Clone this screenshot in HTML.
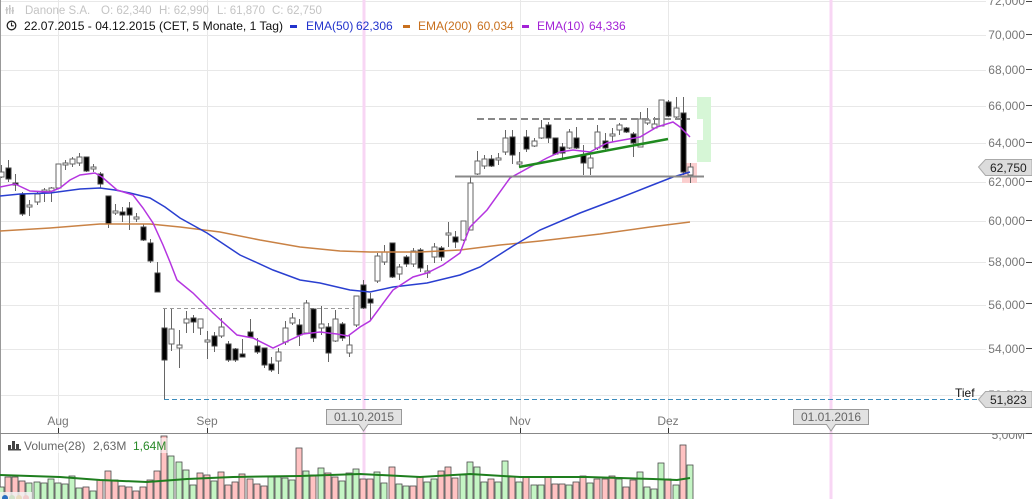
<!DOCTYPE html>
<html><head><meta charset="utf-8"><style>
html,body{margin:0;padding:0;background:#fff;}
svg{display:block;font-family:"Liberation Sans",Arial,sans-serif;}
</style></head><body>
<svg width="1032" height="499" viewBox="0 0 1032 499" xmlns="http://www.w3.org/2000/svg">
<rect width="1032" height="499" fill="#fff"/>
<!-- horizontal grid -->
<g stroke="#e8e8e8" stroke-width="1">
<line x1="0" x2="986" y1="1.5" y2="1.5"/>
<line x1="0" x2="986" y1="35.5" y2="35.5"/>
<line x1="0" x2="986" y1="70.5" y2="70.5"/>
<line x1="0" x2="986" y1="106.5" y2="106.5"/>
<line x1="0" x2="986" y1="143.5" y2="143.5"/>
<line x1="0" x2="986" y1="182.5" y2="182.5"/>
<line x1="0" x2="986" y1="221.5" y2="221.5"/>
<line x1="0" x2="986" y1="262.5" y2="262.5"/>
<line x1="0" x2="986" y1="305.5" y2="305.5"/>
<line x1="0" x2="986" y1="349.5" y2="349.5"/>
<line x1="0" x2="986" y1="395.5" y2="395.5"/>
</g>
<!-- vertical grid -->
<g stroke="#e8e8e8" stroke-width="1">
<line x1="58.5" x2="58.5" y1="0" y2="499"/>
<line x1="207.5" x2="207.5" y1="0" y2="499"/>
<line x1="520.5" x2="520.5" y1="0" y2="499"/>
<line x1="668.5" x2="668.5" y1="0" y2="499"/>
</g>
<!-- pink date lines -->
<g stroke="#f8d6f4" stroke-width="3">
<line x1="364" x2="364" y1="0" y2="499"/>
<line x1="831" x2="831" y1="0" y2="499"/>
</g>
<!-- left border -->
<line x1="0.5" x2="0.5" y1="0" y2="499" stroke="#999" stroke-width="1"/>

<!-- annotation background shapes -->
<path d="M697 97 H711 V162 H697 V140 H703 V119 H697 Z" fill="#d6f6d6"/>
<rect x="682" y="163" width="15" height="20" fill="#fbcfcf"/>

<!-- resistance dashed line -->
<line x1="163" x2="356" y1="308.5" y2="308.5" stroke="#999" stroke-width="1" stroke-dasharray="4,3"/>
<!-- Tief dashed line -->
<line x1="164" x2="979" y1="399.5" y2="399.5" stroke="#3b8bbb" stroke-width="1" stroke-dasharray="5,3"/>

<!-- wicks -->
<path fill="none" stroke="#666" stroke-width="1" d="M1.5 165V178 M8.5 160V182 M15.5 174V191 M22.5 192V216 M29.5 200V216 M37.5 192V205 M44.5 188V202 M51.5 187V202 M58.5 164V189 M65.5 160V170 M72.5 157V167 M79.5 153V166 M86.5 157V172 M93.5 164V172 M100.5 172V188 M108.5 196V228 M115.5 204V215 M122.5 207V222 M129.5 202V230 M136.5 213V222 M143.5 224V241 M150.5 239V263 M157.5 262V292 M164.5 309V399 M171.5 309V351 M179.5 330V368 M186.5 311V333 M193.5 315V333 M200.5 319V335 M207.5 331V359 M214.5 332V352 M221.5 318V338 M228.5 341V362 M235.5 348V362 M242.5 339V357 M250.5 319V338 M257.5 338V354 M264.5 348V368 M271.5 357V372 M278.5 348V374 M285.5 321V345 M292.5 313V325 M299.5 319V346 M306.5 300V333 M313.5 309V342 M321.5 306V335 M328.5 323V362 M335.5 310V342 M342.5 322V341 M349.5 335V357 M356.5 296V327 M363.5 280V309 M370.5 293V320 M377.5 253V283 M384.5 245V265 M392.5 243V278 M399.5 264V280 M406.5 255V267 M413.5 248V267 M420.5 248V272 M427.5 265V278 M434.5 243V263 M441.5 246V261 M448.5 222V247 M455.5 231V248 M463.5 221V241 M470.5 177V230 M477.5 151V175 M484.5 155V169 M491.5 155V167 M498.5 153V165 M505.5 130V155 M512.5 130V164 M519.5 152V166 M526.5 130V152 M534.5 138V147 M541.5 120V139 M548.5 122V143 M555.5 138V155 M562.5 143V158 M569.5 129V149 M576.5 127V149 M583.5 145V175 M590.5 155V175 M597.5 125V150 M605.5 133V152 M612.5 128V142 M619.5 123V135 M626.5 127V133 M633.5 132V157 M640.5 112V147 M647.5 108V125 M654.5 117V129 M661.5 100V126 M668.5 100V117 M676.5 97V118 M683.5 97V175 M690.5 163V183"/>

<!-- black bodies -->
<g fill="#000" stroke="#444" stroke-width="1">
<rect x="6" y="168" width="5" height="11"/>
<rect x="13" y="183" width="5" height="2"/>
<rect x="20" y="194" width="5" height="20"/>
<rect x="84" y="157" width="5" height="14"/>
<rect x="98" y="174" width="5" height="10"/>
<rect x="106" y="196" width="5" height="28"/>
<rect x="120" y="212" width="5" height="3"/>
<rect x="127" y="208" width="5" height="7"/>
<rect x="141" y="227" width="5" height="13"/>
<rect x="148" y="243" width="5" height="18"/>
<rect x="155" y="273" width="5" height="19"/>
<rect x="162" y="328" width="5" height="32"/>
<rect x="191" y="318" width="5" height="4"/>
<rect x="212" y="336" width="5" height="10"/>
<rect x="226" y="344" width="5" height="16"/>
<rect x="233" y="349" width="5" height="11"/>
<rect x="240" y="354" width="5" height="3"/>
<rect x="248" y="332" width="5" height="5"/>
<rect x="255" y="346" width="5" height="6"/>
<rect x="262" y="348" width="5" height="17"/>
<rect x="269" y="364" width="5" height="6"/>
<rect x="297" y="325" width="5" height="10"/>
<rect x="311" y="309" width="5" height="29"/>
<rect x="326" y="327" width="5" height="26"/>
<rect x="340" y="324" width="5" height="14"/>
<rect x="361" y="285" width="5" height="23"/>
<rect x="368" y="299" width="5" height="4"/>
<rect x="390" y="243" width="5" height="34"/>
<rect x="404" y="257" width="5" height="7"/>
<rect x="418" y="250" width="5" height="18"/>
<rect x="439" y="248" width="5" height="9"/>
<rect x="453" y="237" width="5" height="5"/>
<rect x="489" y="159" width="5" height="7"/>
<rect x="510" y="137" width="5" height="18"/>
<rect x="524" y="137" width="5" height="12"/>
<rect x="546" y="125" width="5" height="13"/>
<rect x="553" y="138" width="5" height="16"/>
<rect x="560" y="147" width="5" height="6"/>
<rect x="574" y="138" width="5" height="10"/>
<rect x="581" y="155" width="5" height="8"/>
<rect x="603" y="141" width="5" height="7"/>
<rect x="624" y="128" width="5" height="4"/>
<rect x="631" y="134" width="5" height="9"/>
<rect x="666" y="102" width="5" height="14"/>
<rect x="681" y="113" width="5" height="59"/>
</g>
<!-- white bodies -->
<g fill="#fff" stroke="#666" stroke-width="1">
<rect x="-1" y="172" width="5" height="5"/>
<rect x="27" y="205" width="5" height="2"/>
<rect x="35" y="194" width="5" height="8"/>
<rect x="42" y="190" width="5" height="2"/>
<rect x="49" y="188" width="5" height="3"/>
<rect x="56" y="164" width="5" height="24"/>
<rect x="63" y="163" width="5" height="2"/>
<rect x="70" y="159" width="5" height="5"/>
<rect x="77" y="157" width="5" height="6"/>
<rect x="91" y="167" width="5" height="2"/>
<rect x="113" y="211" width="5" height="2"/>
<rect x="134" y="217" width="5" height="2"/>
<rect x="169" y="329" width="5" height="15"/>
<rect x="177" y="345" width="5" height="3"/>
<rect x="184" y="319" width="5" height="4"/>
<rect x="198" y="319" width="5" height="9"/>
<rect x="205" y="340" width="5" height="2"/>
<rect x="219" y="327" width="5" height="9"/>
<rect x="276" y="352" width="5" height="9"/>
<rect x="283" y="328" width="5" height="14"/>
<rect x="290" y="318" width="5" height="5"/>
<rect x="304" y="303" width="5" height="30"/>
<rect x="319" y="324" width="5" height="4"/>
<rect x="333" y="319" width="5" height="22"/>
<rect x="347" y="345" width="5" height="8"/>
<rect x="354" y="296" width="5" height="29"/>
<rect x="375" y="256" width="5" height="25"/>
<rect x="382" y="252" width="5" height="10"/>
<rect x="397" y="267" width="5" height="7"/>
<rect x="411" y="251" width="5" height="13"/>
<rect x="425" y="271" width="5" height="2"/>
<rect x="432" y="247" width="5" height="10"/>
<rect x="446" y="233" width="5" height="2"/>
<rect x="461" y="221" width="5" height="19"/>
<rect x="468" y="183" width="5" height="47"/>
<rect x="475" y="161" width="5" height="13"/>
<rect x="482" y="159" width="5" height="7"/>
<rect x="496" y="158" width="5" height="2"/>
<rect x="503" y="138" width="5" height="14"/>
<rect x="517" y="162" width="5" height="2"/>
<rect x="532" y="141" width="5" height="5"/>
<rect x="539" y="128" width="5" height="10"/>
<rect x="567" y="132" width="5" height="16"/>
<rect x="588" y="158" width="5" height="10"/>
<rect x="595" y="132" width="5" height="16"/>
<rect x="610" y="134" width="5" height="2"/>
<rect x="617" y="125" width="5" height="5"/>
<rect x="638" y="119" width="5" height="28"/>
<rect x="645" y="120" width="5" height="3"/>
<rect x="652" y="124" width="5" height="4"/>
<rect x="659" y="100" width="5" height="26"/>
<rect x="674" y="108" width="5" height="9"/>
<rect x="688" y="167" width="5" height="8"/>
</g>

<!-- EMA lines -->
<polyline fill="none" stroke="#c98245" stroke-width="1.5" points="0,231 50,228 100,224 150,224 180,227 220,232 260,240 300,247 340,251 370,252 420,252 460,250 500,245 540,241 600,234 650,227 690,222"/>
<polyline fill="none" stroke="#2a3fd0" stroke-width="1.5" points="0,196 20,194 50,193 80,189 100,188 115,190 130,193 150,198 165,207 180,218 207,233 240,255 273,270 300,280 320,283 350,290 370,292 393,287 427,283 460,275 480,267 513,246 540,230 580,213 617,199 650,186 673,177 690,172"/>
<polyline fill="none" stroke="#b535e0" stroke-width="1.5" points="0,187 15,184 30,191 50,192 60,188 70,180 80,175 95,173 102,177 117,190 133,195 143,208 153,223 163,245 170,262 177,280 193,293 213,313 237,335 253,338 273,348 290,340 303,334 320,332 337,334 348,336 360,327 370,321 393,290 413,277 427,273 443,265 460,253 470,227 487,210 510,178 530,167 547,158 560,152 573,150 590,152 607,143 623,140 640,137 657,127 673,122 680,127 690,137"/>

<!-- annotations -->
<line x1="477" x2="690" y1="119" y2="119" stroke="#888" stroke-width="2" stroke-dasharray="7,4"/>
<line x1="455" x2="704" y1="176.5" y2="176.5" stroke="#888" stroke-width="2"/>
<line x1="519" y1="167" x2="668" y2="139" stroke="#1f8a1f" stroke-width="2.5"/>

<!-- y axis labels -->
<g font-size="12" fill="#777" text-anchor="end">
<text x="1025" y="5">72,000</text>
<text x="1025" y="39">70,000</text>
<text x="1025" y="74">68,000</text>
<text x="1025" y="110">66,000</text>
<text x="1025" y="147">64,000</text>
<text x="1025" y="186">62,000</text>
<text x="1025" y="225">60,000</text>
<text x="1025" y="266">58,000</text>
<text x="1025" y="309">56,000</text>
<text x="1025" y="353">54,000</text>
<text x="1025" y="399">52,000</text>
</g>
<g stroke="#444" stroke-width="1">
<line x1="1026" x2="1032" y1="1.5" y2="1.5"/>
<line x1="1026" x2="1032" y1="34.5" y2="34.5"/>
<line x1="1026" x2="1032" y1="69.5" y2="69.5"/>
<line x1="1026" x2="1032" y1="105.5" y2="105.5"/>
<line x1="1026" x2="1032" y1="142.5" y2="142.5"/>
<line x1="1026" x2="1032" y1="181.5" y2="181.5"/>
<line x1="1026" x2="1032" y1="220.5" y2="220.5"/>
<line x1="1026" x2="1032" y1="262.5" y2="262.5"/>
<line x1="1026" x2="1032" y1="303.5" y2="303.5"/>
<line x1="1026" x2="1032" y1="348.5" y2="348.5"/>
</g>

<!-- price markers -->
<polygon points="978.5,167 985.5,159.5 1032,159.5 1032,175.5 985.5,175.5" fill="#dcdcdc" stroke="#aaa" stroke-width="1"/>
<text x="990" y="172" font-size="12" fill="#222">62,750</text>
<polygon points="978.5,399.5 985.5,391.5 1032,391.5 1032,407.5 985.5,407.5" fill="#dcdcdc" stroke="#aaa" stroke-width="1"/>
<text x="990" y="404" font-size="12" fill="#222">51,823</text>
<text x="955" y="397" font-size="12" fill="#111">Tief</text>

<!-- x axis -->
<g font-size="12" fill="#777" text-anchor="middle">
<text x="58" y="425">Aug</text>
<text x="207" y="425">Sep</text>
<text x="520" y="425">Nov</text>
<text x="668" y="425">Dez</text>
</g>
<g stroke="#333" stroke-width="1">
<line x1="58.5" x2="58.5" y1="428" y2="433"/>
<line x1="207.5" x2="207.5" y1="428" y2="433"/>
<line x1="520.5" x2="520.5" y1="428" y2="433"/>
<line x1="668.5" x2="668.5" y1="428" y2="433"/>
</g>
<!-- date boxes -->
<path d="M326.5 409.5 H401.5 V424.5 H368 L363.5 431 L359 424.5 H326.5 Z" fill="#e2e2e2" stroke="#999" stroke-width="1"/>
<text x="364" y="421" font-size="12" fill="#666" text-anchor="middle">01.10.2015</text>
<path d="M793.5 409.5 H868.5 V424.5 H835.5 L831 431 L826.5 424.5 H793.5 Z" fill="#e2e2e2" stroke="#999" stroke-width="1"/>
<text x="831" y="421" font-size="12" fill="#666" text-anchor="middle">01.01.2016</text>

<!-- volume label 5,00M partially hidden -->
<text x="1025" y="439" font-size="12" fill="#777" text-anchor="end">5,00M</text>
<rect x="984" y="425" width="42" height="8" fill="#fff"/>
<line x1="1026" x2="1032" y1="433.5" y2="433.5" stroke="#444"/>
<!-- separator -->
<line x1="0" x2="1026" y1="433.5" y2="433.5" stroke="#888" stroke-width="1"/>

<!-- volume bars -->
<g stroke="#4a4a4a" stroke-width="0.8">
<rect x="-2" y="487" width="6" height="14" fill="#c4f5c4"/>
<rect x="5" y="477" width="6" height="24" fill="#ffc2c2"/>
<rect x="12" y="477" width="6" height="24" fill="#ffc2c2"/>
<rect x="19" y="481" width="6" height="20" fill="#ffc2c2"/>
<rect x="26" y="483" width="6" height="18" fill="#c4f5c4"/>
<rect x="34" y="482" width="6" height="19" fill="#c4f5c4"/>
<rect x="41" y="483" width="6" height="18" fill="#c4f5c4"/>
<rect x="48" y="479" width="6" height="22" fill="#c4f5c4"/>
<rect x="55" y="483" width="6" height="18" fill="#c4f5c4"/>
<rect x="62" y="484" width="6" height="17" fill="#c4f5c4"/>
<rect x="69" y="476" width="6" height="25" fill="#c4f5c4"/>
<rect x="76" y="488" width="6" height="13" fill="#c4f5c4"/>
<rect x="83" y="487" width="6" height="14" fill="#ffc2c2"/>
<rect x="90" y="491" width="6" height="10" fill="#c4f5c4"/>
<rect x="97" y="480" width="6" height="21" fill="#ffc2c2"/>
<rect x="105" y="471" width="6" height="30" fill="#ffc2c2"/>
<rect x="112" y="480" width="6" height="21" fill="#ffc2c2"/>
<rect x="119" y="486" width="6" height="15" fill="#ffc2c2"/>
<rect x="126" y="487" width="6" height="14" fill="#ffc2c2"/>
<rect x="133" y="491" width="6" height="10" fill="#ffc2c2"/>
<rect x="140" y="487" width="6" height="14" fill="#ffc2c2"/>
<rect x="147" y="480" width="6" height="21" fill="#ffc2c2"/>
<rect x="154" y="471" width="6" height="30" fill="#ffc2c2"/>
<rect x="161" y="436" width="6" height="65" fill="#ffc2c2"/>
<rect x="168" y="456" width="6" height="45" fill="#c4f5c4"/>
<rect x="176" y="462" width="6" height="39" fill="#c4f5c4"/>
<rect x="183" y="470" width="6" height="31" fill="#c4f5c4"/>
<rect x="190" y="485" width="6" height="16" fill="#c4f5c4"/>
<rect x="197" y="473" width="6" height="28" fill="#ffc2c2"/>
<rect x="204" y="475" width="6" height="26" fill="#ffc2c2"/>
<rect x="211" y="481" width="6" height="20" fill="#c4f5c4"/>
<rect x="218" y="472" width="6" height="29" fill="#ffc2c2"/>
<rect x="225" y="485" width="6" height="16" fill="#ffc2c2"/>
<rect x="232" y="482" width="6" height="19" fill="#ffc2c2"/>
<rect x="239" y="474" width="6" height="27" fill="#ffc2c2"/>
<rect x="247" y="479" width="6" height="22" fill="#ffc2c2"/>
<rect x="254" y="484" width="6" height="17" fill="#ffc2c2"/>
<rect x="261" y="486" width="6" height="15" fill="#ffc2c2"/>
<rect x="268" y="477" width="6" height="24" fill="#c4f5c4"/>
<rect x="275" y="477" width="6" height="24" fill="#c4f5c4"/>
<rect x="282" y="478" width="6" height="23" fill="#c4f5c4"/>
<rect x="289" y="480" width="6" height="21" fill="#c4f5c4"/>
<rect x="296" y="448" width="6" height="53" fill="#ffc2c2"/>
<rect x="303" y="471" width="6" height="30" fill="#c4f5c4"/>
<rect x="310" y="475" width="6" height="26" fill="#ffc2c2"/>
<rect x="318" y="468" width="6" height="33" fill="#c4f5c4"/>
<rect x="325" y="473" width="6" height="28" fill="#ffc2c2"/>
<rect x="332" y="477" width="6" height="24" fill="#ffc2c2"/>
<rect x="339" y="481" width="6" height="20" fill="#c4f5c4"/>
<rect x="346" y="473" width="6" height="28" fill="#c4f5c4"/>
<rect x="353" y="469" width="6" height="32" fill="#c4f5c4"/>
<rect x="360" y="479" width="6" height="22" fill="#ffc2c2"/>
<rect x="367" y="479" width="6" height="22" fill="#ffc2c2"/>
<rect x="374" y="472" width="6" height="29" fill="#c4f5c4"/>
<rect x="381" y="483" width="6" height="18" fill="#c4f5c4"/>
<rect x="389" y="467" width="6" height="34" fill="#ffc2c2"/>
<rect x="396" y="484" width="6" height="17" fill="#c4f5c4"/>
<rect x="403" y="486" width="6" height="15" fill="#c4f5c4"/>
<rect x="410" y="486" width="6" height="15" fill="#ffc2c2"/>
<rect x="417" y="477" width="6" height="24" fill="#ffc2c2"/>
<rect x="424" y="482" width="6" height="19" fill="#c4f5c4"/>
<rect x="431" y="479" width="6" height="22" fill="#c4f5c4"/>
<rect x="438" y="471" width="6" height="30" fill="#ffc2c2"/>
<rect x="445" y="467" width="6" height="34" fill="#ffc2c2"/>
<rect x="452" y="478" width="6" height="23" fill="#ffc2c2"/>
<rect x="460" y="475" width="6" height="26" fill="#c4f5c4"/>
<rect x="467" y="462" width="6" height="39" fill="#c4f5c4"/>
<rect x="474" y="467" width="6" height="34" fill="#c4f5c4"/>
<rect x="481" y="482" width="6" height="19" fill="#c4f5c4"/>
<rect x="488" y="479" width="6" height="22" fill="#ffc2c2"/>
<rect x="495" y="482" width="6" height="19" fill="#c4f5c4"/>
<rect x="502" y="461" width="6" height="40" fill="#c4f5c4"/>
<rect x="509" y="477" width="6" height="24" fill="#ffc2c2"/>
<rect x="516" y="482" width="6" height="19" fill="#c4f5c4"/>
<rect x="523" y="477" width="6" height="24" fill="#ffc2c2"/>
<rect x="531" y="485" width="6" height="16" fill="#c4f5c4"/>
<rect x="538" y="485" width="6" height="16" fill="#c4f5c4"/>
<rect x="545" y="477" width="6" height="24" fill="#ffc2c2"/>
<rect x="552" y="484" width="6" height="17" fill="#ffc2c2"/>
<rect x="559" y="484" width="6" height="17" fill="#ffc2c2"/>
<rect x="566" y="485" width="6" height="16" fill="#c4f5c4"/>
<rect x="573" y="482" width="6" height="19" fill="#ffc2c2"/>
<rect x="580" y="476" width="6" height="25" fill="#ffc2c2"/>
<rect x="587" y="483" width="6" height="18" fill="#c4f5c4"/>
<rect x="594" y="479" width="6" height="22" fill="#ffc2c2"/>
<rect x="602" y="479" width="6" height="22" fill="#ffc2c2"/>
<rect x="609" y="476" width="6" height="25" fill="#ffc2c2"/>
<rect x="616" y="479" width="6" height="22" fill="#c4f5c4"/>
<rect x="623" y="487" width="6" height="14" fill="#ffc2c2"/>
<rect x="630" y="480" width="6" height="21" fill="#ffc2c2"/>
<rect x="637" y="472" width="6" height="29" fill="#c4f5c4"/>
<rect x="644" y="487" width="6" height="14" fill="#c4f5c4"/>
<rect x="651" y="489" width="6" height="12" fill="#c4f5c4"/>
<rect x="658" y="463" width="6" height="38" fill="#c4f5c4"/>
<rect x="665" y="479" width="6" height="22" fill="#ffc2c2"/>
<rect x="673" y="485" width="6" height="16" fill="#c4f5c4"/>
<rect x="680" y="445" width="6" height="56" fill="#ffc2c2"/>
<rect x="687" y="465" width="6" height="36" fill="#c4f5c4"/>
</g>
<polyline fill="none" stroke="#1e7e1e" stroke-width="2" points="0,475 60,477 100,480 147,482 187,479 233,477 300,476 360,474 420,477 470,474 520,477 587,477 653,479 677,480 690,478"/>

<!-- bottom-left small dots -->
<rect x="0" y="492" width="32" height="8" fill="#f2f2f2" fill-opacity="0.85"/>
<circle cx="5" cy="498" r="3" fill="#2a6fc0"/>
<circle cx="12" cy="498" r="3" fill="#cfe0c8"/>
<circle cx="19" cy="498" r="3" fill="#e8dcc0"/>
<circle cx="26" cy="498" r="3" fill="#f0cccc"/>

<!-- volume label -->
<rect x="6" y="438" width="162" height="15" fill="#fff" fill-opacity="0.55"/>
<g fill="#444">
<rect x="8" y="445" width="3" height="5"/>
<rect x="12" y="441" width="3" height="9"/>
<rect x="16" y="444" width="3" height="6"/>
<rect x="8" y="449" width="13" height="1.5"/>
</g>
<text x="24" y="450" font-size="12" fill="#666">Volume(28)</text>
<text x="93" y="450" font-size="12" fill="#666">2,63M</text>
<text x="133" y="450" font-size="12" fill="#2a8a2a">1,64M</text>

<!-- header -->
<g fill="#c8c8c8">
<rect x="6" y="7" width="1.5" height="7"/>
<rect x="9" y="5" width="1.5" height="9"/>
<rect x="12" y="7" width="1.5" height="7"/>
<rect x="5.5" y="9" width="2.5" height="1.5"/>
<rect x="8.5" y="8" width="2.5" height="1.5"/>
<rect x="11.5" y="10" width="2.5" height="1.5"/>
</g>
<g font-size="11.5" fill="#c4c4c4">
<text x="25" y="14">Danone S.A.</text>
<text x="101" y="14">O: 62,340</text>
<text x="159" y="14">H: 62,990</text>
<text x="217" y="14">L: 61,870</text>
<text x="272" y="14">C: 62,750</text>
</g>
<circle cx="11.5" cy="25.5" r="4.3" fill="none" stroke="#222" stroke-width="1.3"/>
<path d="M11.5 22.5 V25.8 H13.8" fill="none" stroke="#222" stroke-width="1.1"/>
<text x="24" y="30" font-size="12" fill="#111" textLength="259" lengthAdjust="spacingAndGlyphs">22.07.2015 - 04.12.2015 (CET, 5 Monate, 1 Tag)</text>
<rect x="290" y="25" width="7" height="3" fill="#2233cc"/>
<text x="306" y="30" font-size="12" fill="#2233cc">EMA(50)</text>
<text x="356" y="30" font-size="12" fill="#2233cc">62,306</text>
<rect x="403" y="25" width="7" height="3" fill="#c8701e"/>
<text x="418" y="30" font-size="12" fill="#c8701e">EMA(200)</text>
<text x="477" y="30" font-size="12" fill="#c8701e">60,034</text>
<rect x="522" y="25" width="7" height="3" fill="#a322d6"/>
<text x="537" y="30" font-size="12" fill="#a322d6">EMA(10)</text>
<text x="589" y="30" font-size="12" fill="#a322d6">64,336</text>
</svg>
</body></html>
